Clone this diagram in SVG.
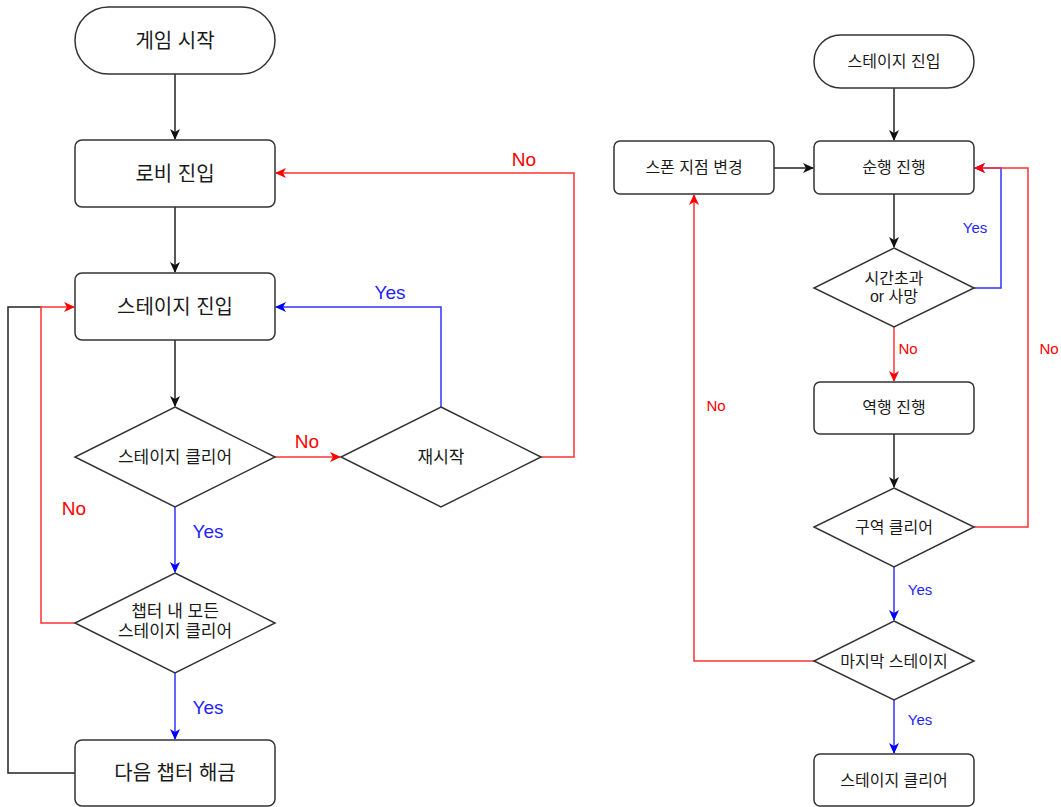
<svg xmlns="http://www.w3.org/2000/svg" width="1061" height="807" viewBox="0 0 1061 807">
<defs>
<style>
.n{fill:#fff;stroke:#333;stroke-width:1.5}
.t{font-family:"Liberation Sans","Noto Sans CJK KR",sans-serif;fill:#1a1a1a;text-anchor:middle}
.l20{font-size:20px}
.l17{font-size:17px}
.l16{font-size:16px}
.c{fill:none;stroke-width:1.5}
.k{stroke:#222}
.r{stroke:#ff3333}
.b{stroke:#3333ff}
.lab{font-family:"Liberation Sans",sans-serif;text-anchor:middle}
.lr{fill:#ff0000}
.lb{fill:#1f1fff}
</style>
<marker id="ak" markerWidth="11" markerHeight="10" refX="10" refY="5" orient="auto" markerUnits="userSpaceOnUse"><path d="M0,0 L11,5 L0,10 L3,5 Z" fill="#111"/></marker>
<marker id="ar" markerWidth="11" markerHeight="10" refX="10" refY="5" orient="auto" markerUnits="userSpaceOnUse"><path d="M0,0 L11,5 L0,10 L3,5 Z" fill="#ff0000"/></marker>
<marker id="ab" markerWidth="11" markerHeight="10" refX="10" refY="5" orient="auto" markerUnits="userSpaceOnUse"><path d="M0,0 L11,5 L0,10 L3,5 Z" fill="#0000ff"/></marker>
</defs>
<rect width="1061" height="807" fill="#fff"/>
<g id="connectors">
<path class="c k" d="M175,74 V139" marker-end="url(#ak)"/>
<path class="c k" d="M175,207 V272" marker-end="url(#ak)"/>
<path class="c k" d="M175,340 V406" marker-end="url(#ak)"/>
<path class="c r" d="M275,457 H340" marker-end="url(#ar)"/>
<path class="c b" d="M441,407 V307 H276" marker-end="url(#ab)"/>
<path class="c r" d="M541,457 H574 V173 H276" marker-end="url(#ar)"/>
<path class="c b" d="M175,507 V572" marker-end="url(#ab)"/>
<path class="c k" d="M75,773 H8 V307 H41"/>
<path class="c r" d="M75,623 H41 V307 H74" marker-end="url(#ar)"/>
<path class="c b" d="M175,673 V739" marker-end="url(#ab)"/>
<path class="c k" d="M894,88 V140" marker-end="url(#ak)"/>
<path class="c k" d="M774,168 H813" marker-end="url(#ak)"/>
<path class="c k" d="M894,194 V247" marker-end="url(#ak)"/>
<path class="c b" d="M974,288 H1001 V168 H975" marker-end="url(#ab)"/>
<path class="c r" d="M894,327 V381" marker-end="url(#ar)"/>
<path class="c k" d="M894,434 V487" marker-end="url(#ak)"/>
<path class="c r" d="M974,527 H1028 V168 H975" marker-end="url(#ar)"/>
<path class="c b" d="M894,567 V620" marker-end="url(#ab)"/>
<path class="c r" d="M814,661 H694 V195" marker-end="url(#ar)"/>
<path class="c b" d="M894,700 V753" marker-end="url(#ab)"/>
<text class="lab lr" x="307" y="448" font-size="19">No</text>
<text class="lab lb" x="390" y="299" font-size="19">Yes</text>
<text class="lab lr" x="524" y="166" font-size="19">No</text>
<text class="lab lb" x="208" y="538" font-size="19">Yes</text>
<text class="lab lr" x="74" y="515" font-size="19">No</text>
<text class="lab lb" x="208" y="714" font-size="19">Yes</text>
<text class="lab lb" x="975" y="233" font-size="15">Yes</text>
<text class="lab lr" x="908" y="354" font-size="15">No</text>
<text class="lab lr" x="1049" y="354" font-size="15">No</text>
<text class="lab lr" x="716" y="411" font-size="15">No</text>
<text class="lab lb" x="920" y="595" font-size="15">Yes</text>
<text class="lab lb" x="920" y="725" font-size="15">Yes</text>
</g>
<g id="game-start"><rect class="n" x="75" y="7" width="200" height="67" rx="33.5"/><text class="t l20" x="175" y="48">게임 시작</text></g>
<g id="lobby"><rect class="n" x="75" y="140" width="200" height="67" rx="7"/><text class="t l20" x="175" y="181">로비 진입</text></g>
<g id="stage-enter"><rect class="n" x="75" y="273" width="200" height="67" rx="7"/><text class="t l20" x="175" y="314">스테이지 진입</text></g>
<g id="stage-clear-q"><path class="n" d="M175,407 L275,457 L175,507 L75,457 Z"/><text class="t l17" x="175" y="463">스테이지 클리어</text></g>
<g id="restart-q"><path class="n" d="M441,407 L541,457 L441,507 L341,457 Z"/><text class="t l17" x="441" y="463">재시작</text></g>
<g id="chapter-q"><path class="n" d="M175,573 L275,623 L175,673 L75,623 Z"/><text class="t l17" x="175" y="617">챕터 내 모든</text><text class="t l17" x="175" y="637">스테이지 클리어</text></g>
<g id="next-chapter"><rect class="n" x="75" y="740" width="200" height="66" rx="7"/><text class="t l20" x="175" y="780">다음 챕터 해금</text></g>
<g id="r-stage-enter"><rect class="n" x="814" y="35" width="160" height="53" rx="26.5"/><text class="t l16" x="894" y="67">스테이지 진입</text></g>
<g id="spawn-change"><rect class="n" x="614" y="141" width="160" height="53" rx="6"/><text class="t l16" x="694" y="173">스폰 지점 변경</text></g>
<g id="forward"><rect class="n" x="814" y="141" width="160" height="53" rx="6"/><text class="t l16" x="894" y="173">순행 진행</text></g>
<g id="timeout-q"><path class="n" d="M894,248 L974,288 L894,327 L814,288 Z"/><text class="t l16" x="894" y="284">시간초과</text><text class="t l16" x="894" y="302">or 사망</text></g>
<g id="reverse"><rect class="n" x="814" y="382" width="160" height="52" rx="6"/><text class="t l16" x="894" y="413">역행 진행</text></g>
<g id="zone-clear-q"><path class="n" d="M894,488 L974,527 L894,567 L814,527 Z"/><text class="t l16" x="894" y="533">구역 클리어</text></g>
<g id="last-stage-q"><path class="n" d="M894,621 L974,661 L894,700 L814,661 Z"/><text class="t l16" x="894" y="667">마지막 스테이지</text></g>
<g id="r-stage-clear"><rect class="n" x="814" y="754" width="160" height="52" rx="6"/><text class="t l16" x="894" y="786">스테이지 클리어</text></g>
</svg>
